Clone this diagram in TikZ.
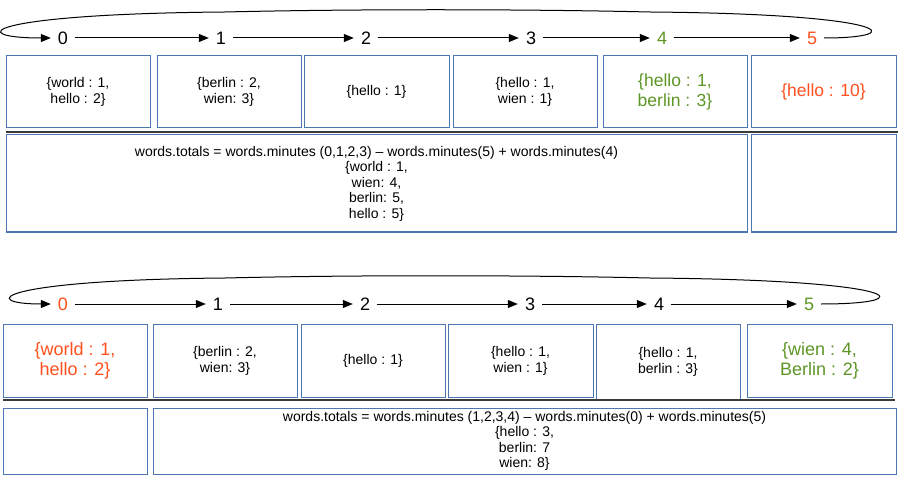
\documentclass[tikz,border=0pt]{standalone}
\usepackage{fontspec}
\setmainfont{Liberation Sans}
\usetikzlibrary{arrows.meta}
\definecolor{bordc}{RGB}{78,118,178}
\definecolor{sepc}{RGB}{58,58,58}
\definecolor{grn}{RGB}{94,150,38}
\definecolor{org}{RGB}{255,80,30}
\tikzset{
  cell/.style={draw=bordc, line width=1pt, inner sep=0pt, outer sep=0pt, align=center,
    font=\fontsize{14}{16}\selectfont},
  bigtxt/.style={font=\fontsize{17.5}{20}\selectfont},
  sumtxt/.style={font=\fontsize{14}{15.5}\selectfont},
  num/.style={inner xsep=7pt, inner ysep=2pt, font=\fontsize{18}{20}\selectfont},
  flow/.style={line width=1pt, -{Triangle[length=10pt,width=8pt]}},
  sepline/.style={draw=sepc, line width=2.2pt},
}
\begin{document}
\begin{tikzpicture}[x=1pt,y=-1pt]
\useasboundingbox[fill=white] (0,0) rectangle (909,486);

% ---------------- Section 1 ----------------
\node[num] (n0) at (63,38) {0};
\node[num] (n1) at (221,38) {1};
\node[num] (n2) at (366,38) {2};
\node[num] (n3) at (531,38) {3};
\node[num, text=grn] (n4) at (662,38) {4};
\node[num, text=org] (n5) at (812,38) {5};
\draw[flow] (n0) -- (n1);
\draw[flow] (n1) -- (n2);
\draw[flow] (n2) -- (n3);
\draw[flow] (n3) -- (n4);
\draw[flow] (n4) -- (n5);
\draw[flow] (n5.east) .. controls (910,38) and (895,14) .. (650,12)
  .. controls (520,9) and (350,9) .. (225,12)
  .. controls (-20,14) and (-35,38) .. (n0.west);

\node[cell, minimum width=144pt, minimum height=72pt] (a1) at (78,92) {\{world : 1,\\hello : 2\}};
\node[cell, minimum width=144pt, minimum height=72pt] (a2) at (229,92) {\{berlin : 2,\\wien: 3\}};
\node[cell, minimum width=145pt, minimum height=72pt] (a3) at (376.5,92) {\{hello : 1\}};
\node[cell, minimum width=144pt, minimum height=72pt] (a4) at (525,92) {\{hello : 1,\\wien : 1\}};
\node[cell, bigtxt, text=grn, minimum width=144pt, minimum height=72pt] (a5) at (675,92) {\{hello : 1,\\berlin : 3\}};
\node[cell, bigtxt, text=org, minimum width=145pt, minimum height=72pt] (a6) at (823.5,92) {\{hello : 10\}};

\coordinate (s1l) at (6,132);
\coordinate (s1r) at (898,132);
\draw[sepline] (s1l) -- (s1r);

\node[cell, sumtxt, minimum width=741pt, minimum height=97pt] (b1) at (376.5,183.5)
  {words.totals = words.minutes (0,1,2,3) -- words.minutes(5) + words.minutes(4)\\
   \{world : 1,\\wien: 4,\\berlin: 5,\\hello : 5\}};
\node[cell, minimum width=145pt, minimum height=97pt] (b2) at (823.5,183.5) {};

% ---------------- Section 2 ----------------
\node[num, text=org] (m0) at (63,304) {0};
\node[num] (m1) at (218,304) {1};
\node[num] (m2) at (365,304) {2};
\node[num] (m3) at (530,304) {3};
\node[num] (m4) at (659,304) {4};
\node[num, text=grn] (m5) at (809,304) {5};
\draw[flow] (m0) -- (m1);
\draw[flow] (m1) -- (m2);
\draw[flow] (m2) -- (m3);
\draw[flow] (m3) -- (m4);
\draw[flow] (m4) -- (m5);
\draw[flow] (m5.east) .. controls (924,304) and (906,280) .. (650,278)
  .. controls (520,275) and (350,275) .. (225,278)
  .. controls (-8,280) and (-21,304) .. (m0.west);

\node[cell, font=\fontsize{18}{20}\selectfont, text=org, minimum width=144pt, minimum height=73pt] (c1) at (75,360.5) {\{world : 1,\\hello : 2\}};
\node[cell, minimum width=144pt, minimum height=73pt] (c2) at (225,360.5) {\{berlin : 2,\\wien: 3\}};
\node[cell, minimum width=144pt, minimum height=73pt] (c3) at (373,360.5) {\{hello : 1\}};
\node[cell, minimum width=145pt, minimum height=73pt] (c4) at (520.5,360.5) {\{hello : 1,\\wien : 1\}};
\node[cell, minimum width=144pt, minimum height=75pt] (c5) at (668,361.5) {\{hello : 1,\\berlin : 3\}};
\node[cell, font=\fontsize{18}{20}\selectfont, text=grn, minimum width=145pt, minimum height=73pt] (c6) at (819.5,360.5) {\{wien : 4,\\Berlin : 2\}};

\coordinate (s2l) at (3,400);
\coordinate (s2r) at (895,400);
\draw[sepline] (s2l) -- (s2r);

\node[cell, minimum width=144pt, minimum height=66pt] (d1) at (75,441) {};
\node[cell, sumtxt, minimum width=743pt, minimum height=66pt] (d2) at (524.5,441)
  {words.totals = words.minutes (1,2,3,4) -- words.minutes(0) + words.minutes(5)\\
   \{hello : 3,\\berlin: 7\\wien: 8\}};
\end{tikzpicture}
\end{document}
